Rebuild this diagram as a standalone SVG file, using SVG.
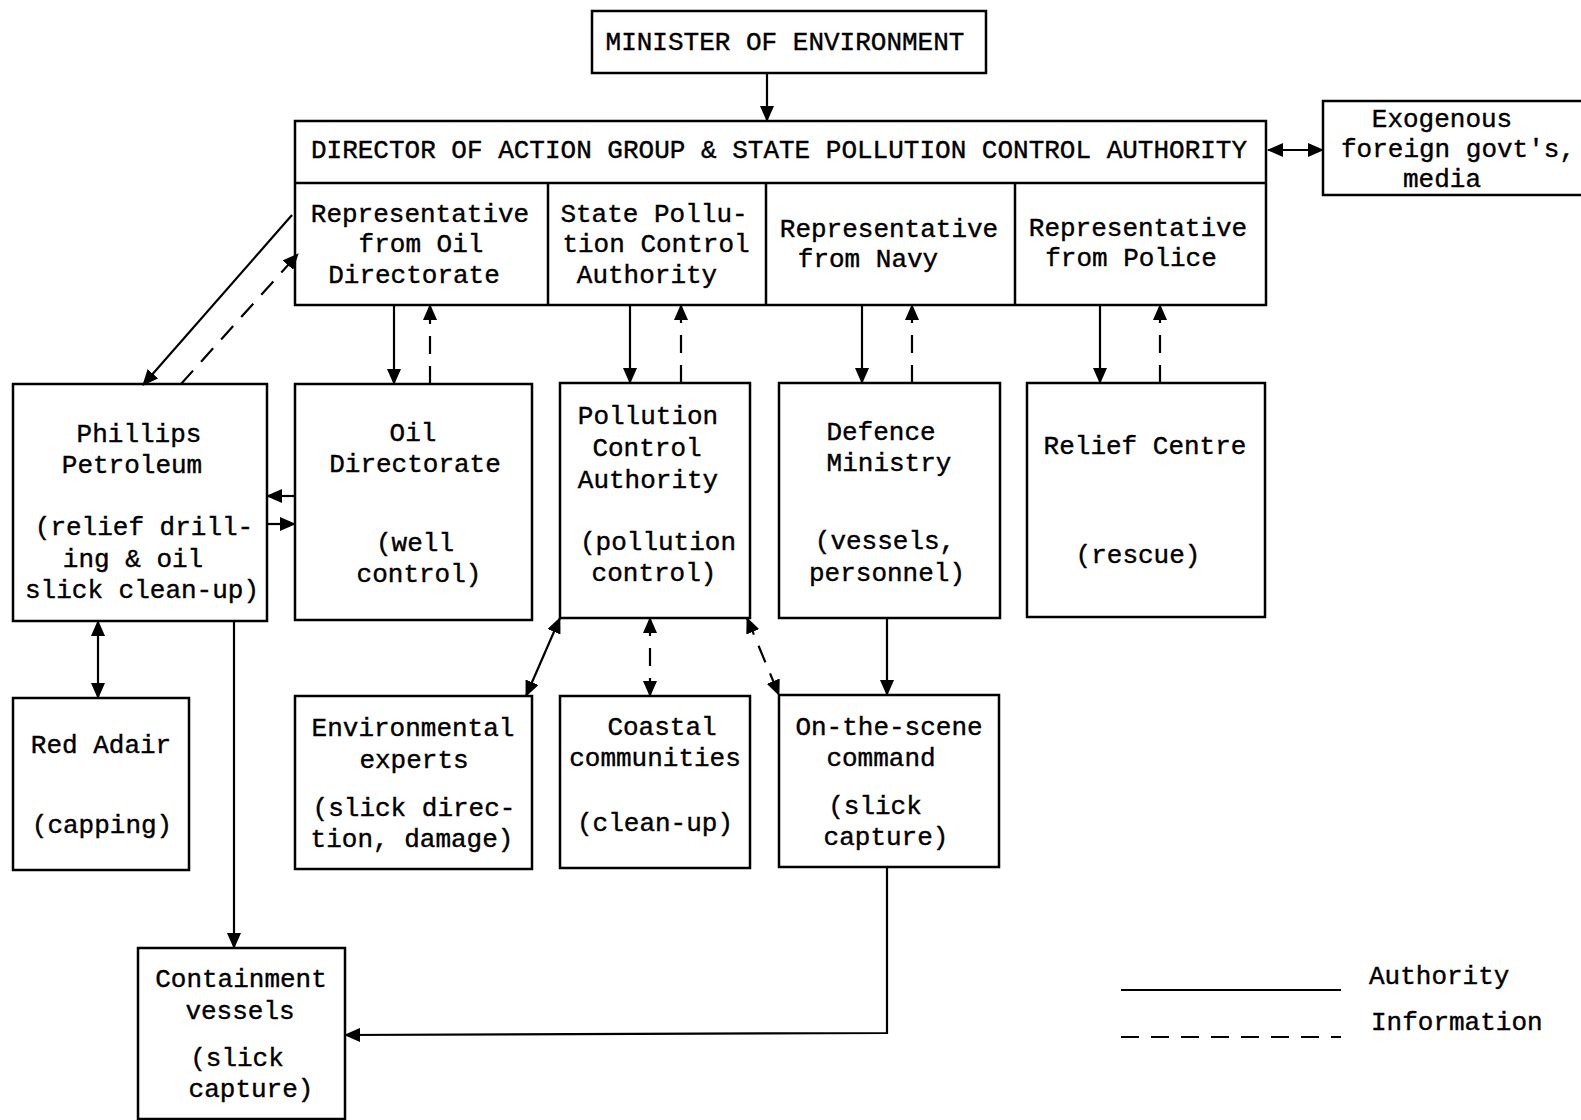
<svg xmlns="http://www.w3.org/2000/svg" width="1581" height="1120" viewBox="0 0 1581 1120">
<style>
.box{fill:#fff;stroke:#000;stroke-width:2.5}
.div{stroke:#000;stroke-width:2.5;fill:none}
text{font-family:"Liberation Mono","Courier New",monospace;font-size:26px;fill:#000;stroke:#000;stroke-width:0.4;text-anchor:middle}
.st{text-anchor:start}
.c{stroke:#000;stroke-width:2.2;fill:none}
.d{stroke-dasharray:18 12}
.a{marker-end:url(#ah)}
.aa{marker-end:url(#ah);marker-start:url(#ah)}
</style>
<defs>
<marker id="ah" viewBox="0 0 16 14" refX="15" refY="7" markerWidth="16" markerHeight="14" markerUnits="userSpaceOnUse" orient="auto-start-reverse">
<path d="M0,0 L16,7 L0,14 Z" fill="#000"/>
</marker>
</defs>
<g id="minister">
<rect class="box" x="592" y="11" width="394" height="62"/>
<text x="785" y="50">MINISTER OF ENVIRONMENT</text>
</g>
<g id="director">
<rect class="box" x="295" y="121" width="971" height="184"/>
<line class="div" x1="295" y1="183" x2="1266" y2="183"/>
<text x="779" y="158">DIRECTOR OF ACTION GROUP &amp; STATE POLLUTION CONTROL AUTHORITY</text>
</g>
<g id="rep-oil">
<text x="420" y="222">Representative</text>
<text x="421" y="252">from Oil</text>
<text x="414" y="283">Directorate</text>
</g>
<g id="rep-spca">
<line class="div" x1="548" y1="183" x2="548" y2="305"/>
<text x="654" y="222">State Pollu-</text>
<text x="656" y="252">tion Control</text>
<text x="647" y="283">Authority</text>
</g>
<g id="rep-navy">
<line class="div" x1="766" y1="183" x2="766" y2="305"/>
<text x="889" y="237">Representative</text>
<text x="868" y="267">from Navy</text>
</g>
<g id="rep-police">
<line class="div" x1="1015" y1="183" x2="1015" y2="305"/>
<text x="1138" y="236">Representative</text>
<text x="1131" y="266">from Police</text>
</g>
<g id="exogenous">
<rect class="box" x="1323" y="101" width="270" height="94"/>
<text x="1442" y="127">Exogenous</text>
<text x="1458" y="157">foreign govt's,</text>
<text x="1442" y="187">media</text>
</g>
<g id="phillips">
<rect class="box" x="13" y="384" width="254" height="237"/>
<text x="139" y="442">Phillips</text>
<text x="132" y="473">Petroleum</text>
<text x="144" y="535">(relief drill-</text>
<text x="133" y="567">ing &amp; oil</text>
<text x="142" y="598">slick clean-up)</text>
</g>
<g id="oil-directorate">
<rect class="box" x="295" y="384" width="237" height="236"/>
<text x="413" y="441">Oil</text>
<text x="415" y="472">Directorate</text>
<text x="415" y="551">(well</text>
<text x="419" y="582">control)</text>
</g>
<g id="pca">
<rect class="box" x="560" y="383" width="190" height="235"/>
<text x="648" y="424">Pollution</text>
<text x="647" y="456">Control</text>
<text x="648" y="488">Authority</text>
<text x="658" y="550">(pollution</text>
<text x="654" y="581">control)</text>
</g>
<g id="defence">
<rect class="box" x="779" y="383" width="221" height="235"/>
<text x="881" y="440">Defence</text>
<text x="889" y="471">Ministry</text>
<text x="885" y="549">(vessels,</text>
<text x="887" y="581">personnel)</text>
</g>
<g id="relief">
<rect class="box" x="1027" y="383" width="238" height="234"/>
<text x="1145" y="454">Relief Centre</text>
<text x="1138" y="563">(rescue)</text>
</g>
<g id="red-adair">
<rect class="box" x="13" y="698" width="176" height="172"/>
<text x="101" y="753">Red Adair</text>
<text x="102" y="833">(capping)</text>
</g>
<g id="env-experts">
<rect class="box" x="295" y="696" width="237" height="173"/>
<text x="413" y="736">Environmental</text>
<text x="414" y="768">experts</text>
<text x="414" y="816">(slick direc-</text>
<text x="412" y="847">tion, damage)</text>
</g>
<g id="coastal">
<rect class="box" x="560" y="696" width="190" height="172"/>
<text x="662" y="735">Coastal</text>
<text x="655" y="766">communities</text>
<text x="655" y="831">(clean-up)</text>
</g>
<g id="on-scene">
<rect class="box" x="779" y="695" width="220" height="172"/>
<text x="889" y="735">On-the-scene</text>
<text x="881" y="766">command</text>
<text x="875" y="814">(slick</text>
<text x="886" y="845">capture)</text>
</g>
<g id="containment">
<rect class="box" x="138" y="948" width="207" height="171"/>
<text x="241" y="987">Containment</text>
<text x="240" y="1019">vessels</text>
<text x="237" y="1066">(slick</text>
<text x="251" y="1097">capture)</text>
</g>
<g id="connectors">
<line class="c a" x1="767" y1="73" x2="767" y2="121"/>
<line class="c aa" x1="1268" y1="150" x2="1323" y2="150"/>
<line class="c a" x1="292" y1="215" x2="143" y2="385"/>
<line class="c d a" x1="181" y1="384" x2="298" y2="254"/>
<line class="c a" x1="394" y1="305" x2="394" y2="384"/>
<line class="c d a" x1="430" y1="384" x2="430" y2="305"/>
<line class="c a" x1="630" y1="305" x2="630" y2="383"/>
<line class="c d a" x1="681" y1="383" x2="681" y2="305"/>
<line class="c a" x1="862" y1="305" x2="862" y2="383"/>
<line class="c d a" x1="912" y1="383" x2="912" y2="305"/>
<line class="c a" x1="1100" y1="305" x2="1100" y2="383"/>
<line class="c d a" x1="1160" y1="383" x2="1160" y2="305"/>
<line class="c a" x1="295" y1="496" x2="267" y2="496"/>
<line class="c d a" x1="267" y1="524" x2="295" y2="524"/>
<line class="c aa" x1="98" y1="621" x2="98" y2="698"/>
<line class="c a" x1="234" y1="621" x2="234" y2="948"/>
<line class="c aa" x1="560" y1="618" x2="526" y2="696"/>
<line class="c d aa" x1="650" y1="618" x2="650" y2="696"/>
<line class="c d aa" x1="747" y1="618" x2="779" y2="695"/>
<line class="c a" x1="887" y1="618" x2="887" y2="695"/>
<polyline class="c a" points="887,867 887,1033 345,1035"/>
</g>
<g id="legend">
<line class="c" x1="1121" y1="990" x2="1341" y2="990"/>
<line class="c d" x1="1121" y1="1037" x2="1341" y2="1037"/>
<text class="st" x="1369" y="984">Authority</text>
<text class="st" x="1371" y="1030">Information</text>
</g>
</svg>
